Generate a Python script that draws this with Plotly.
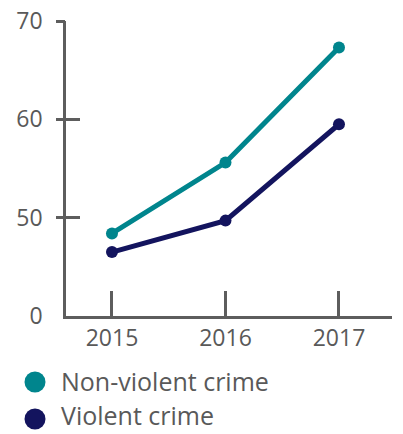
import plotly.graph_objects as go

years = [2015, 2016, 2017]
non_violent = [48.4, 55.6, 67.3]
violent = [46.5, 49.7, 59.5]
series_names = ["Non-violent crime", "Violent crime"]
series_colors = ["#00858d", "#13145e"]
y_tickvals = [40, 50, 60, 70]
y_ticktext = ["0", "50", "60", "70"]

AX = "#5d5d5d"
TXT = "#595959"
FONT = "Open Sans"

W, H = 403, 434
ML, MR, MT, MB = 66, 11, 21, 118
PW, PH = W - ML - MR, H - MT - MB

fig = go.Figure()
for vals, name, col in zip([non_violent, violent], series_names, series_colors):
    fig.add_trace(go.Scatter(
        x=years, y=vals, mode="lines+markers", name=name,
        line=dict(color=col, width=5),
        marker=dict(color=col, size=12),
        showlegend=False, cliponaxis=False,
    ))
fig.add_trace(go.Scatter(x=[None], y=[None], yaxis="y2", showlegend=False, hoverinfo="skip"))
fig.add_trace(go.Scatter(x=[None], y=[None], yaxis="y3", showlegend=False, hoverinfo="skip"))

# legend (pixel positions converted to paper coords)
leg_text_px = [381, 415]
leg_circ_px = [382, 419]
circ_x_px, circ_r_px, text_x_px = 35, 10.5, 59
for name, col, tpx, cpx in zip(series_names, series_colors, leg_text_px, leg_circ_px):
    fig.add_annotation(xref="paper", yref="paper", x=(text_x_px - ML) / PW,
                       y=(H - MB - tpx) / PH,
                       xanchor="left", yanchor="middle", showarrow=False,
                       text=name, font=dict(family=FONT, size=25, color=TXT))
    cx = (circ_x_px - ML) / PW
    cy = (H - MB - cpx) / PH
    fig.add_shape(type="circle", xref="paper", yref="paper",
                  x0=cx - circ_r_px / PW, x1=cx + circ_r_px / PW,
                  y0=cy - circ_r_px / PH, y1=cy + circ_r_px / PH,
                  fillcolor=col, line=dict(width=0))

common = dict(showgrid=False, zeroline=False, automargin=False)
fig.update_layout(
    width=W, height=H,
    margin=dict(l=ML, r=MR, t=MT, b=MB),
    paper_bgcolor="white", plot_bgcolor="white",
    xaxis=dict(range=[2014.595, 2017.467], tickvals=years, ticktext=[str(y) for y in years],
               ticks="inside", ticklen=25, tickwidth=2.5, tickcolor=AX,
               showline=True, linecolor=AX, linewidth=2.5,
               tickfont=dict(family=FONT, size=23, color=TXT), **common),
    yaxis=dict(range=[40, 70], tickvals=y_tickvals, ticktext=y_ticktext, ticks="",
               showline=True, linecolor=AX, linewidth=2.5,
               ticklabelstandoff=16,
               tickfont=dict(family=FONT, size=23, color=TXT), **common),
    yaxis2=dict(range=[40, 70], overlaying="y", anchor="x", side="left",
                tickvals=y_tickvals[1:], ticks="outside", ticklen=9, tickwidth=2.5, tickcolor=AX,
                showticklabels=False, showline=False, **common),
    yaxis3=dict(range=[40, 70], overlaying="y", anchor="x", side="left",
                tickvals=y_tickvals[1:], ticks="inside", ticklen=14, tickwidth=2.5, tickcolor=AX,
                showticklabels=False, showline=False, **common),
)

fig.write_html("out.html", config={"displayModeBar": False},
               post_script="document.body.style.margin='0';document.body.style.overflow='hidden';")
